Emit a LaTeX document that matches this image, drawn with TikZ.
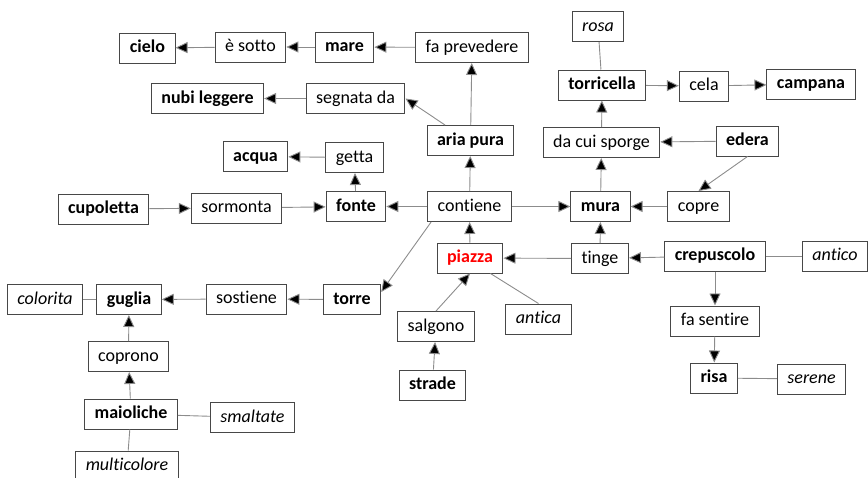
\documentclass[tikz,border=0pt]{standalone}
\usepackage{fontspec}
\setmainfont{Carlito}[Ligatures={NoCommon}]
\usetikzlibrary{arrows.meta}
\begin{document}
\begin{tikzpicture}[x=1pt,y=-1pt,font=\fontsize{18}{21}\selectfont,
	box/.style={draw=black!72,line width=1pt,inner xsep=10pt,inner ysep=6.5pt,text height=13pt,text depth=4pt,fill=white},
	concept/.style={box,font=\fontsize{18}{21}\selectfont\bfseries},
	link/.style={box},
	attr/.style={box,font=\fontsize{18}{21}\selectfont\itshape},
	arr/.style={draw=black!45,line width=0.9pt,-{Triangle[length=12pt,width=11pt,fill=black]}},
	lin/.style={draw=black!45,line width=0.9pt}]
	\useasboundingbox (0,0) rectangle (868,477);
	% concetti e parole legame
	\path (147.5,48)node[concept](cielo){cielo} (250.5,47)node[link](esotto){è sotto}
	(344.5,47)node[concept](mare){mare} (472,47.5)node[link](faprev){fa prevedere}
	(207.5,98.5)node[concept](nubi){nubi leggere} (355.5,98.5)node[link](segnata){segnata da}
	(470.5,140.5)node[concept](aria){aria pura}
	(255.5,156.5)node[concept](acqua){acqua} (354.5,157.5)node[link](getta){getta}
	(103.5,209)node[concept](cupoletta){cupoletta} (236.5,208)node[link](sormonta){sormonta}
	(356,206.5)node[concept](fonte){fonte} (469.5,206.5)node[link](contiene){contiene};
	\path (598,26.5)node[attr](rosa){rosa} (602,85)node[concept](torricella){torricella}
	(704,86)node[link](cela){cela} (811,84)node[concept](campana){campana}
	(601.5,142.5)node[link](sporge){da cui sporge} (747.5,141)node[concept](edera){edera}
	(600.5,206.5)node[concept](mura){mura} (698.5,206.5)node[link](copre){copre};
	\path (45,299.5)node[attr](colorita){colorita} (129,299.5)node[concept](guglia){guglia}
	(246.5,299)node[link](sostiene){sostiene} (352,299.5)node[concept](torre){torre}
	(128.5,356.5)node[link](coprono){coprono} (131,414)node[concept](maioliche){maioliche}
	(252.5,417.5)node[attr](smaltate){smaltate} (127,466)node[attr](multicolore){multicolore}
	(436,326.5)node[link](salgono){salgono} (432.5,385)node[concept](strade){strade};
	\path (470,258)node[concept,text=red](piazza){piazza} (600,258.5)node[link](tinge){tinge}
	(715,256)node[concept](crepuscolo){crepuscolo} (835,256)node[attr](antico){antico}
	(538.5,319)node[attr](antica){antica} (715,321)node[link](fasentire){fa sentire}
	(714,378)node[concept](risa){risa} (811.5,379)node[attr](serene){serene};
	% connettori
	\draw[arr] (faprev)--(mare); \draw[arr] (mare)--(esotto); \draw[arr] (esotto)--(cielo);
	\draw[arr] (segnata)--(nubi);
	\draw[arr] (aria)--(faprev);
	\draw[arr] (aria.north west -| 445,0)--(segnata.east);
	\draw[arr] (contiene)--(aria); \draw[arr] (contiene)--(fonte);
	\draw[arr] (fonte)--(getta); \draw[arr] (getta)--(acqua);
	\draw[arr] (cupoletta)--(sormonta); \draw[arr] (sormonta)--(fonte);
	\draw[arr] (contiene)--(mura);
	\draw[arr] ([xshift=4pt]contiene.south west)--([yshift=-8pt]torre.north east);
	\draw[arr] (piazza)--(contiene);
	\draw[arr] (tinge)--(piazza); \draw[arr] (tinge)--(mura);
	\draw[arr] (mura)--(sporge); \draw[arr] (sporge)--(torricella);
	\draw[lin] (rosa)--(torricella);
	\draw[arr] (torricella)--(cela); \draw[arr] (cela)--(campana);
	\draw[arr] (edera)--(sporge); \draw[arr] (edera.south)--(copre.north);
	\draw[arr] (copre)--(mura);
	\draw[arr] (crepuscolo)--(tinge); \draw[lin] (crepuscolo)--(antico);
	\draw[arr] (crepuscolo)--(fasentire); \draw[arr] (fasentire)--(risa);
	\draw[lin] (risa)--(serene);
	\draw[arr] (salgono.north)--(piazza.south); \draw[arr] (strade)--(salgono);
	\draw[lin] ([xshift=-13pt]piazza.south east)--(antica.north);
	\draw[arr] (torre)--(sostiene); \draw[arr] (sostiene)--(guglia);
	\draw[lin] (colorita)--(guglia);
	\draw[arr] (coprono)--(guglia); \draw[arr] (maioliche)--(coprono);
	\draw[lin] (maioliche)--(smaltate); \draw[lin] (maioliche)--(multicolore);
\end{tikzpicture}
\end{document}
